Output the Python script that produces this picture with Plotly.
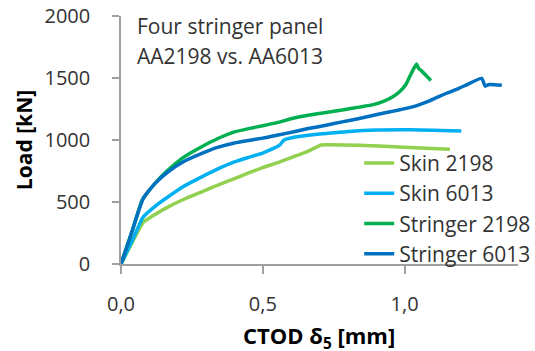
import plotly.graph_objects as go

# CTOD (mm) vs load (kN) for the four-stringer panels
skin_2198_x = [0, 0.04, 0.078, 0.12, 0.165, 0.22, 0.283, 0.34, 0.40, 0.45, 0.50, 0.55, 0.606, 0.66,
               0.706, 0.72, 0.84, 1.017, 1.16]
skin_2198_y = [0, 175, 335, 400, 459, 520, 580, 635, 688, 735, 778, 815, 863, 910,
               960, 962, 958, 940, 925]

skin_6013_x = [0, 0.04, 0.078, 0.12, 0.165, 0.22, 0.283, 0.34, 0.40, 0.45, 0.50, 0.541, 0.559,
               0.575, 0.606, 0.66, 0.723, 0.84, 1.017, 1.20]
skin_6013_y = [0, 190, 378, 465, 540, 625, 701, 765, 823, 860, 895, 936, 958,
               1000, 1020, 1038, 1052, 1075, 1082, 1072]

stringer_2198_x = [0, 0.04, 0.075, 0.12, 0.165, 0.22, 0.283, 0.34, 0.40, 0.45, 0.50, 0.55, 0.606,
                   0.66, 0.723, 0.78, 0.84, 0.89, 0.93, 0.96, 0.985, 1.005, 1.02, 1.042, 1.050,
                   1.058, 1.093]
stringer_2198_y = [0, 270, 515, 650, 755, 860, 944, 1010, 1065, 1092, 1115, 1140, 1175,
                   1200, 1222, 1242, 1265, 1285, 1315, 1350, 1395, 1450, 1520, 1612, 1575,
                   1562, 1480]

stringer_6013_x = [0, 0.04, 0.078, 0.12, 0.165, 0.22, 0.283, 0.34, 0.40, 0.45, 0.50, 0.55, 0.606,
                   0.66, 0.723, 0.78, 0.84, 0.911, 0.97, 1.028, 1.09, 1.146, 1.19, 1.216, 1.272,
                   1.284, 1.298, 1.343]
stringer_6013_y = [0, 270, 527, 650, 742, 825, 890, 940, 976, 996, 1015, 1038, 1065,
                   1092, 1119, 1146, 1173, 1210, 1237, 1267, 1318, 1375, 1415, 1442, 1497,
                   1434, 1448, 1442]

series = [
    ("Skin 2198", skin_2198_x, skin_2198_y, "#92D050"),
    ("Skin 6013", skin_6013_x, skin_6013_y, "#00B0F0"),
    ("Stringer 2198", stringer_2198_x, stringer_2198_y, "#00B050"),
    ("Stringer 6013", stringer_6013_x, stringer_6013_y, "#0070C0"),
]

x_ticks = [0.0, 0.5, 1.0]
y_ticks = [0, 500, 1000, 1500, 2000]

note_lines = ["Four stringer panel", "AA2198 vs. AA6013"]

FONT = "Open Sans"
TEXT = "#333333"
AXIS = "#a0a0a0"

fig = go.Figure()
for name, xs, ys, color in series:
    fig.add_trace(go.Scatter(
        x=xs, y=ys, name=name, mode="lines", legendgroup=name,
        line=dict(color=color, width=3.5, shape="spline", smoothing=0.5),
    ))

annotations = [
    dict(text=line, xref="paper", yref="paper", x=0.035, y=yy, xanchor="left",
         yanchor="middle", showarrow=False, font=dict(family=FONT, size=21, color=TEXT))
    for line, yy in zip(note_lines, [0.96, 0.84])
]
annotations.append(dict(
    text="<b>CTOD\u00a0δ<sub>5</sub>\u00a0[mm]</b>", xref="paper", yref="paper",
    x=0.4987, y=-0.295, xanchor="center", yanchor="middle", showarrow=False,
    font=dict(family=FONT, size=22, color="black"),
))

fig.update_layout(
    width=535, height=351,
    margin=dict(l=121, r=17, t=16, b=87, autoexpand=False),
    paper_bgcolor="white", plot_bgcolor="white",
    separators=",.",
    font=dict(family=FONT, size=20, color=TEXT),
    showlegend=True,
    legend=dict(
        x=0.60, y=0.489, xanchor="left", yanchor="top",
        bgcolor="rgba(0,0,0,0)", font=dict(family=FONT, size=21, color=TEXT),
        tracegroupgap=0, itemwidth=30,
    ),
    annotations=annotations,
)

fig.update_xaxes(
    range=[0, 1.4], tickvals=x_ticks, tickformat=".1f",
    showgrid=False, zeroline=False, showline=True, linecolor=AXIS, linewidth=1.5,
    ticks="outside", ticklen=8, tickcolor=AXIS, tickwidth=1.5,
    tickfont=dict(family=FONT, size=20, color=TEXT), ticklabelstandoff=13,
)
fig.update_yaxes(
    range=[0, 2000], tickvals=y_ticks, tickformat="d",
    showgrid=False, zeroline=False, showline=True, linecolor=AXIS, linewidth=1.5,
    ticks="outside", ticklen=7, tickcolor=AXIS, tickwidth=1.5,
    tickfont=dict(family=FONT, size=20, color=TEXT), ticklabelstandoff=18,
    title=dict(text="<b>Load [kN]</b>", font=dict(family=FONT, size=21, color="black"),
               standoff=6),
)

fig.write_html("out.html")
